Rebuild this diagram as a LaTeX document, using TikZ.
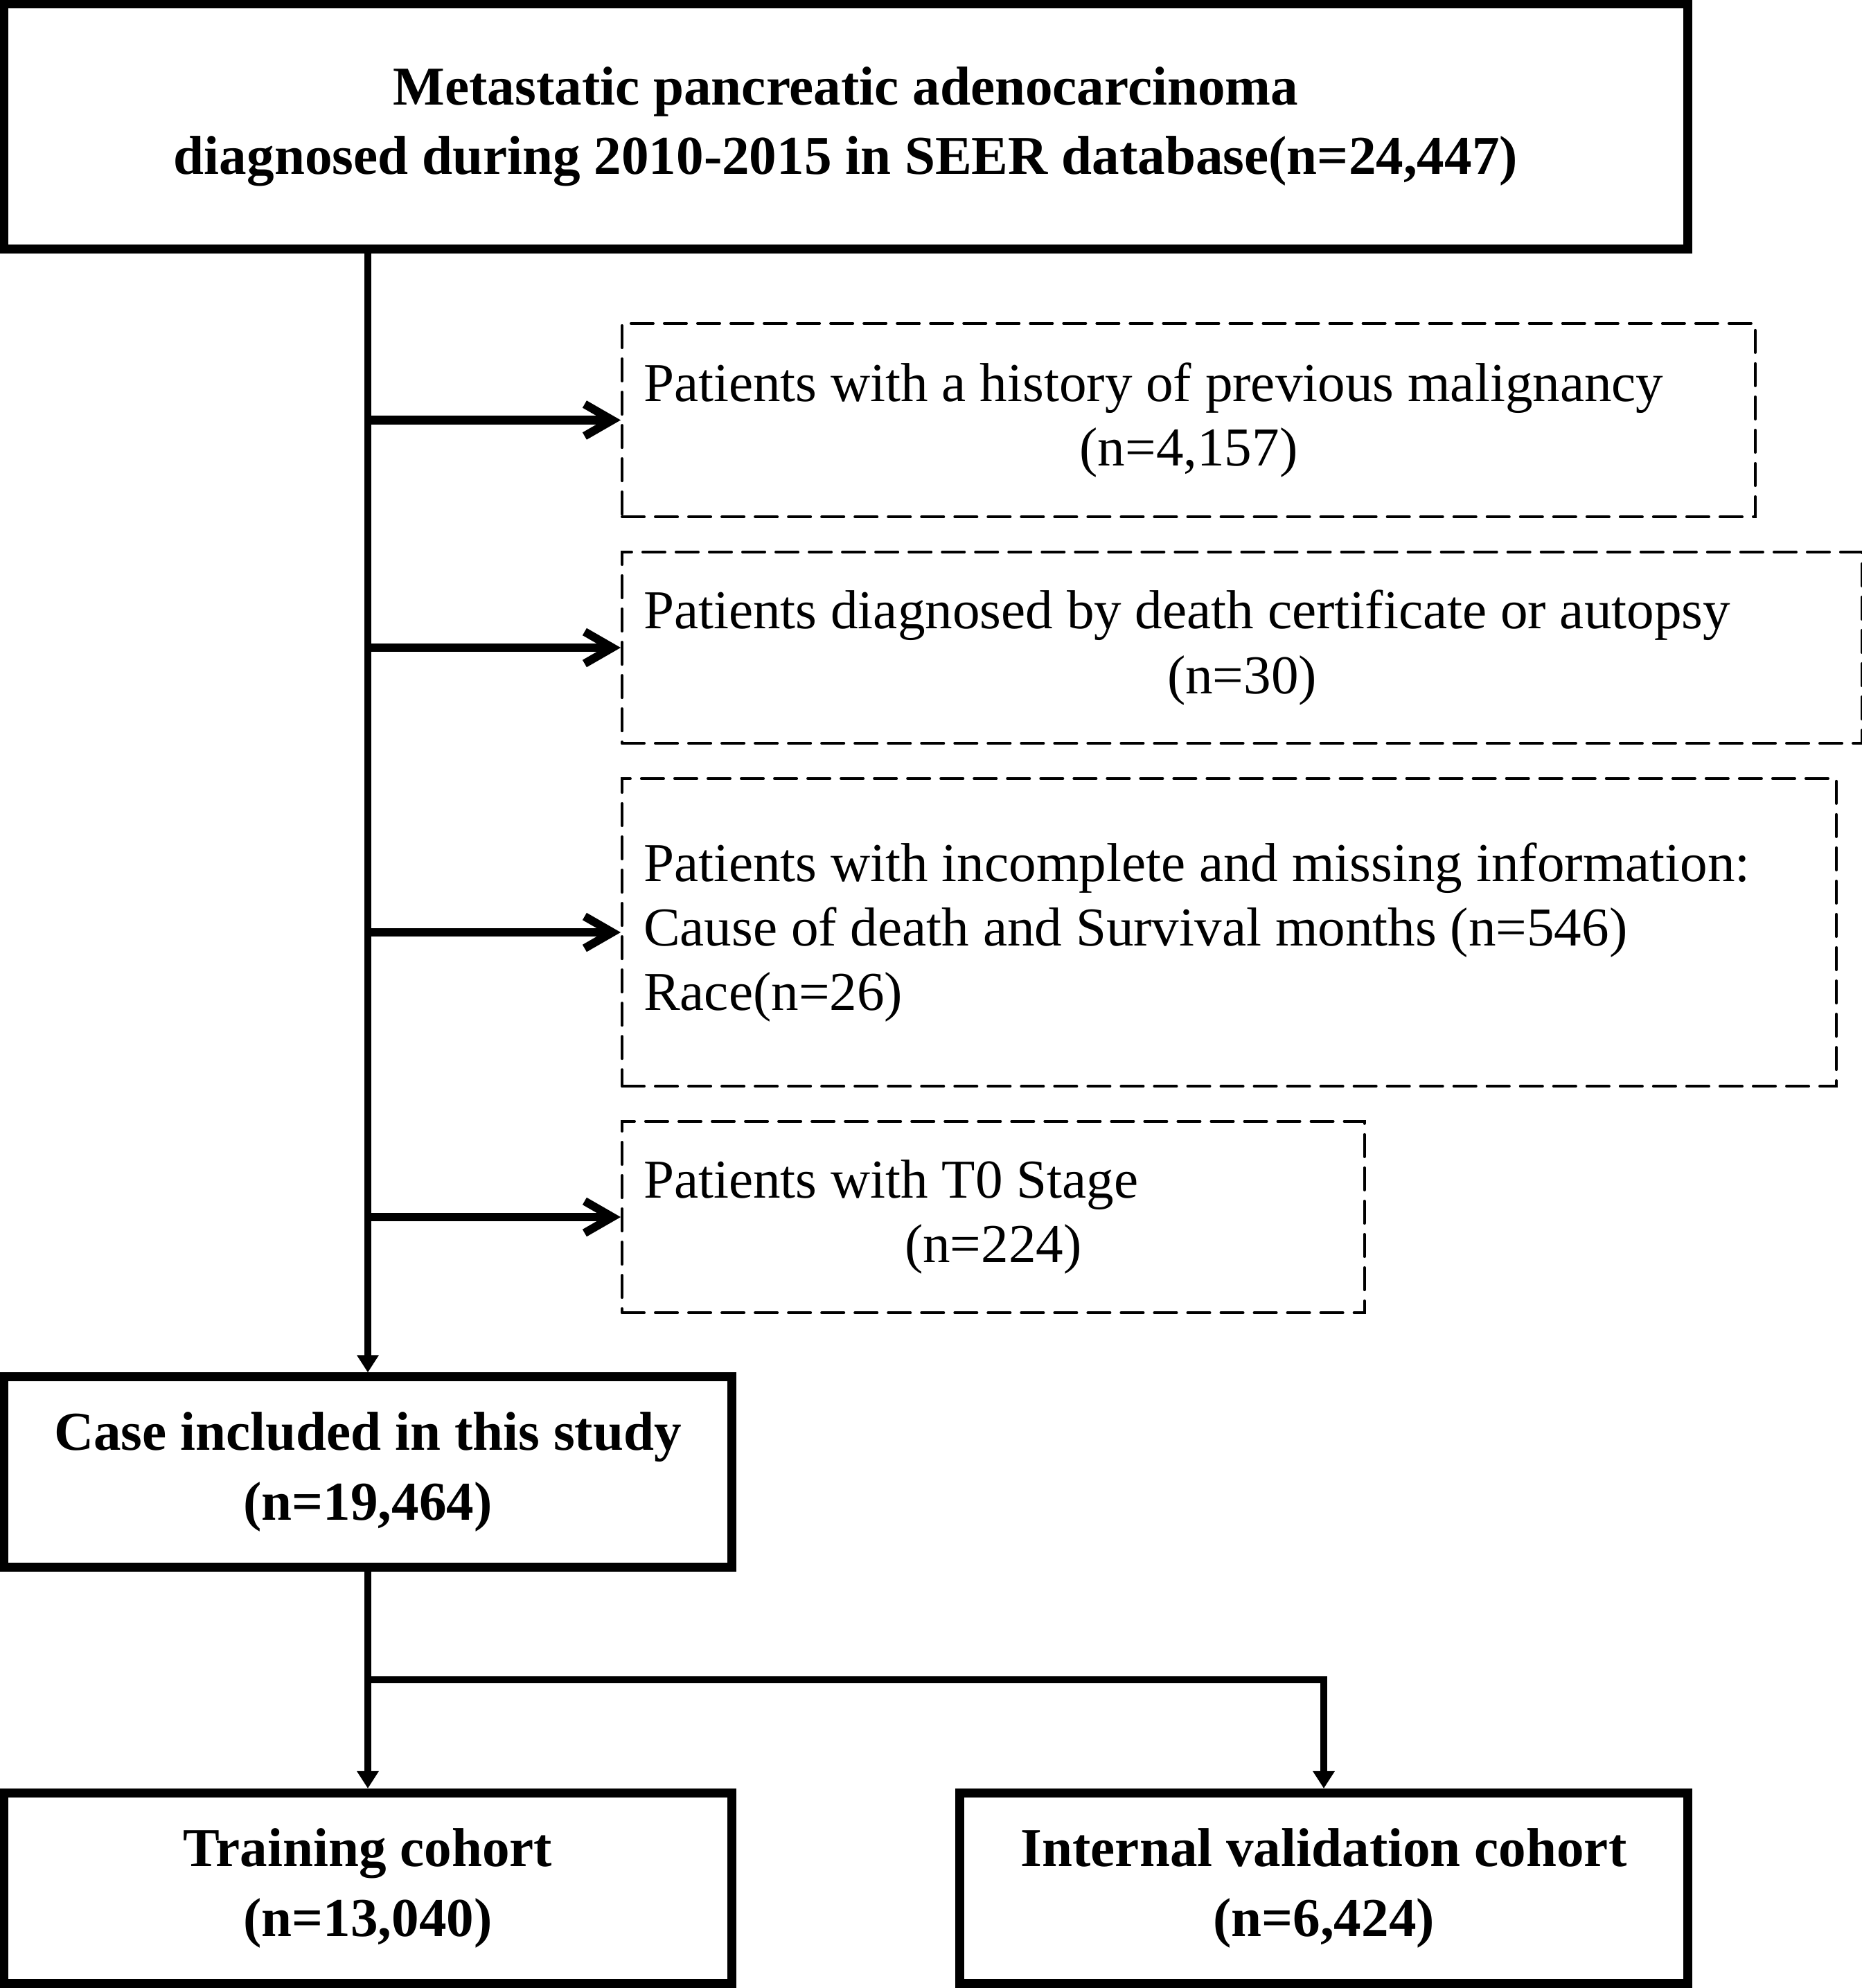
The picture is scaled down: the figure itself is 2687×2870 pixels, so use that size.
\documentclass[tikz,border=0pt]{standalone}
\usepackage{fontspec}
\setmainfont{Liberation Serif}
\usetikzlibrary{arrows.meta}

\begin{document}
\begin{tikzpicture}[x=0.01cm, y=-0.01cm,
    mainbox/.style={draw, line width=0.13cm, align=center, inner sep=0pt,
        font=\fontsize{22.5}{28.5}\selectfont\bfseries},
    exclbox/.style={draw, dash pattern=on 0.32cm off 0.16cm, line width=0.04cm,
        line cap=round, align=left, anchor=west, inner xsep=0.31cm, inner ysep=0pt,
        font=\fontsize{22.5}{26.5}\selectfont,
        execute at begin node={\spaceskip=0pt\relax\xspaceskip=0pt\relax}},
    flow/.style={line width=0.1cm, -{Triangle[length=0.25cm,width=0.3cm]}},
    excl/.style={line width=0.12cm, -{Straight Barb[length=0.4cm,width=0.46cm]}}]
    \useasboundingbox (0,0) rectangle (2687,2870);

    \node[mainbox, minimum width=24.3cm, minimum height=3.53cm] (seer) at (1221,182.5)
    {Metastatic pancreatic adenocarcinoma\\diagnosed during 2010-2015 in SEER database(n=24,447)};

    \node[exclbox, text width=15.73cm, minimum height=2.79cm] (ex1) at (896,606.5)
    {Patients with a history of previous malignancy\\\makebox[\hsize]{(n=4,157)}};
    \node[exclbox, text width=17.27cm, minimum height=2.76cm] (ex2) at (896,935)
    {Patients diagnosed by death certificate or autopsy\\\makebox[\hsize]{(n=30)}};
    \node[exclbox, text width=16.9cm, minimum height=4.44cm] (ex3) at (896,1346)
    {Patients with incomplete and missing information:\\Cause of death and Survival months (n=546)\\Race(n=26)};
    \node[exclbox, text width=10.09cm, minimum height=2.76cm] (ex4) at (896,1757)
    {Patients with T0 Stage\\\makebox[\hsize]{(n=224)}};

    \node[mainbox, minimum width=10.5cm, minimum height=2.74cm] (case) at (531,2125)
    {Case included in this study\\(n=19,464)};
    \node[mainbox, minimum width=10.5cm, minimum height=2.75cm] (train) at (531,2726)
    {Training cohort\\(n=13,040)};
    \node[mainbox, minimum width=10.5cm, minimum height=2.75cm] (valid) at (1911,2726)
    {Internal validation cohort\\(n=6,424)};

    \draw[flow] (seer.south -| case.north) -- (case.north);
    \foreach \b in {ex1,ex2,ex3,ex4}
        \draw[excl] (\b.west -| case.north) -- (\b.west);
    \draw[flow] (case.south) -- (train.north);
    \coordinate (split) at (531,2425);
    \draw[flow] (split) -| (valid.north);
\end{tikzpicture}
\end{document}
